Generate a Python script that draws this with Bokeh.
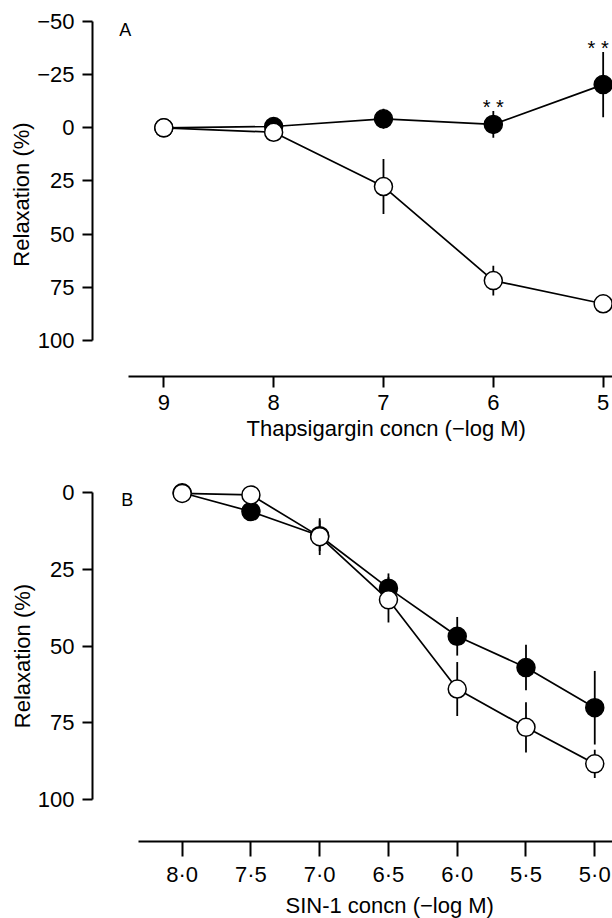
from bokeh.plotting import figure
from bokeh.layouts import column
from bokeh.models import (Range1d, FixedTicker, CustomJSTickFormatter, Label,
                          ColumnDataSource, Title)
from bokeh.embed import file_html
from bokeh.resources import INLINE
from bokeh.core.properties import value

# ---------------- Panel A: thapsigargin ----------------
a_conc = [9, 8, 7, 6, 5]
a_open = [0.0, 2.1, 27.6, 71.8, 82.7]
a_open_sem = [0.0, 0.0, 12.9, 7.0, 2.0]
a_filled = [0.0, -0.6, -4.2, -1.6, -20.3]
a_filled_sem = [0.0, 0.0, 4.7, 6.3, 15.3]
a_sig = ["", "", "", "* *", "* *"]
a_xticks = [9, 8, 7, 6, 5]
a_xlabels = ["9", "8", "7", "6", "5"]
a_yticks = [-50, -25, 0, 25, 50, 75, 100]
a_ylabels = ["\u221250", "\u221225", "0", "25", "50", "75", "100"]
a_xtitle = "Thapsigargin concn (\u2212log M)"

# ---------------- Panel B: SIN-1 ----------------
b_conc = [8.0, 7.5, 7.0, 6.5, 6.0, 5.5, 5.0]
b_open = [0.2, 0.7, 14.3, 34.9, 64.0, 76.5, 88.4]
b_open_sem = [0.0, 0.0, 6.0, 7.4, 8.8, 8.2, 4.6]
b_filled = [0.0, 6.1, 14.0, 31.1, 46.8, 57.0, 70.1]
b_filled_sem = [0.0, 0.0, 5.0, 4.8, 6.3, 7.4, 12.0]
b_xticks = [8.0, 7.5, 7.0, 6.5, 6.0, 5.5, 5.0]
b_xlabels = ["8\u00b70", "7\u00b75", "7\u00b70", "6\u00b75", "6\u00b70", "5\u00b75", "5\u00b70"]
b_yticks = [0, 25, 50, 75, 100]
b_ylabels = ["0", "25", "50", "75", "100"]
b_xtitle = "SIN-1 concn (\u2212log M)"

ytitle = "Relaxation (%)"

FONT = "Liberation Sans"
W = 612
LEFT = 92
FRAME_W = W - LEFT
TICK_FS = "22px"
TITLE_FS = "22px"

def lookup_formatter(tick_values, tick_labels):
    return CustomJSTickFormatter(
        args=dict(tv=list(tick_values), tl=list(tick_labels)),
        code="const i = tv.findIndex(t => Math.abs(t - tick) < 1e-6); return i >= 0 ? tl[i] : '';")

def panel(conc, op, op_sem, fi, fi_sem, xticks, xlabels, yticks, ylabels,
          height, top, bottom, xr, yr, xbounds, ybounds, xtick_len, xstandoff,
          letter, letter_xy, xtitle, title_half_w, sig=None):
    p = figure(width=W, height=height, x_range=Range1d(*xr), y_range=Range1d(*yr),
               output_backend="svg", toolbar_location=None,
               min_border_left=LEFT, min_border_right=0,
               min_border_top=top, min_border_bottom=bottom)
    p.grid.visible = False
    p.outline_line_color = None
    p.background_fill_color = "white"
    p.border_fill_color = "white"

    xa = p.xaxis[0]
    xa.ticker = FixedTicker(ticks=xticks)
    xa.formatter = lookup_formatter(xticks, xlabels)
    xa.bounds = xbounds
    xa.major_tick_in = 0
    xa.major_tick_out = xtick_len
    xa.minor_tick_line_color = None
    xa.axis_line_width = 2
    xa.major_tick_line_width = 2
    xa.axis_line_color = "black"
    xa.major_tick_line_color = "black"
    xa.major_label_text_font = FONT
    xa.major_label_text_font_size = TICK_FS
    xa.major_label_text_color = "black"
    xa.major_label_standoff = xstandoff

    # x title centred under the middle of the tick span (left-aligned + offset)
    mid = (xticks[0] + xticks[-1]) / 2
    mid_px = (mid - xr[0]) / (xr[1] - xr[0]) * FRAME_W
    t = Title(text=xtitle, align="left", offset=mid_px - title_half_w, standoff=2,
              text_font=FONT, text_font_size=TITLE_FS, text_font_style="normal",
              text_color="black")
    p.add_layout(t, "below")

    ya = p.yaxis[0]
    ya.ticker = FixedTicker(ticks=yticks)
    ya.formatter = lookup_formatter(yticks, ylabels)
    ya.bounds = ybounds
    ya.major_tick_in = 0
    ya.major_tick_out = 10
    ya.minor_tick_line_color = None
    ya.axis_line_width = 2
    ya.major_tick_line_width = 2
    ya.axis_line_color = "black"
    ya.major_tick_line_color = "black"
    ya.major_label_text_font = FONT
    ya.major_label_text_font_size = TICK_FS
    ya.major_label_text_color = "black"
    ya.major_label_standoff = 8
    ya.axis_label = ytitle
    ya.axis_label_text_font = FONT
    ya.axis_label_text_font_size = TITLE_FS
    ya.axis_label_text_font_style = "normal"
    ya.axis_label_text_color = "black"
    ya.axis_label_standoff = 0

    op_lo = [v - e for v, e in zip(op, op_sem)]
    op_hi = [v + e for v, e in zip(op, op_sem)]
    fi_lo = [v - e for v, e in zip(fi, fi_sem)]
    fi_hi = [v + e for v, e in zip(fi, fi_sem)]

    p.line(conc, fi, line_color="black", line_width=1.7)
    p.line(conc, op, line_color="black", line_width=1.7)
    p.segment(x0=conc, y0=fi_lo, x1=conc, y1=fi_hi, line_color="black", line_width=1.8)
    p.segment(x0=conc, y0=op_lo, x1=conc, y1=op_hi, line_color="black", line_width=1.8)
    p.scatter(conc, fi, size=18, marker="circle", fill_color="black",
              line_color="black", line_width=1.5)
    p.scatter(conc, op, size=18, marker="circle", fill_color="white",
              line_color="black", line_width=1.5)

    if sig is not None:
        # keep the last pair of stars inside the canvas edge
        dx = [0] * (len(conc) - 1) + [-5]
        src = ColumnDataSource(dict(x=conc, y=fi_lo, t=sig, dx=dx))
        p.text(x="x", y="y", text="t", source=src, text_align="center",
               text_baseline="middle", x_offset="dx", y_offset=-4, text_font=value(FONT),
               text_font_size="20px", text_color="black")

    p.add_layout(Label(x=letter_xy[0], y=letter_xy[1], text=letter, text_align="center",
                       text_baseline="middle", text_font=FONT, text_font_size="18px",
                       text_color="black"))
    return p

pA = panel(a_conc, a_open, a_open_sem, a_filled, a_filled_sem,
           a_xticks, a_xlabels, a_yticks, a_ylabels,
           height=450, top=12, bottom=74,
           xr=(9.649, 4.915), yr=(116.87, -54.18),
           xbounds=(4.915, 9.32), ybounds=(-50, 100), xtick_len=11, xstandoff=7,
           letter="A", letter_xy=(9.35, -46.1),
           xtitle=a_xtitle, title_half_w=137, sig=a_sig)

pB = panel(b_conc, b_open, b_open_sem, b_filled, b_filled_sem,
           b_xticks, b_xlabels, b_yticks, b_ylabels,
           height=468, top=20, bottom=70,
           xr=(8.652, 4.871), yr=(113.73, -7.27),
           xbounds=(4.871, 8.315), ybounds=(0, 100), xtick_len=15, xstandoff=5,
           letter="B", letter_xy=(8.40, 2.34),
           xtitle=b_xtitle, title_half_w=103)

layout = column(pA, pB, spacing=0)
open("out.html", "w").write(file_html(layout, INLINE))
